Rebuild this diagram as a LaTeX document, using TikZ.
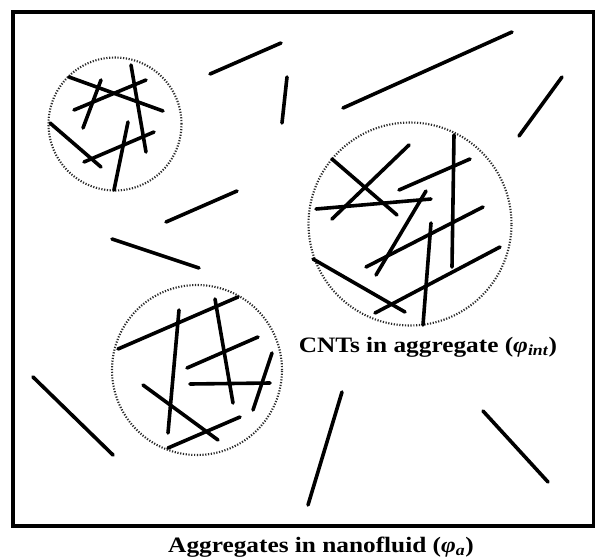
\documentclass[tikz,border=0pt]{standalone}
\usepackage{fontspec}
\setmainfont{Liberation Serif}
\newfontfamily\capfont[FakeStretch=1.15]{Liberation Serif}
\usepackage{tikz}
\usetikzlibrary{positioning}
\definecolor{dotgray}{HTML}{2A2A2A}

\tikzset{
  cnt/.style={line width=3.6pt, line cap=round},
  aggregate/.style={circle, draw=dotgray, line width=2.1pt, dash pattern=on 1.2pt off 1.6pt, inner sep=0pt},
  caption/.style={font=\capfont\fontsize{22}{26}\selectfont\bfseries, inner sep=0pt, anchor=base}
}

\begin{document}
\begin{tikzpicture}[x=1pt, y=-1pt]
  \useasboundingbox (0,0) rectangle (595,560);
  % frame of the nanofluid
  \draw[line width=3.8pt] (13,12) rectangle (594,526);

  % aggregates
  \node[aggregate, minimum size=133pt] (agg1) at (115,124) {};
  \node[aggregate, minimum size=203pt] (agg2) at (410,224) {};
  \node[aggregate, minimum size=170pt] (agg3) at (197,370) {};

  % CNTs inside aggregate 1
  \draw[cnt] (69,77) -- (163,111);
  \draw[cnt] (74,110) -- (146,80);
  \draw[cnt] (101,80) -- (83,128);
  \draw[cnt] (131,65) -- (146,152);
  \draw[cnt] (50,123) -- (101,167);
  \draw[cnt] (84,162) -- (154,132);
  \draw[cnt] (128,122) -- (114,190);

  % CNTs inside aggregate 2
  \draw[cnt] (332,159) -- (397,215);
  \draw[cnt] (332,219) -- (409,145);
  \draw[cnt] (316,209) -- (431,199);
  \draw[cnt] (399,190) -- (470,159);
  \draw[cnt] (454,135) -- (452,267);
  \draw[cnt] (426,191) -- (376,275);
  \draw[cnt] (366,267) -- (483,207);
  \draw[cnt] (431,223) -- (423,325);
  \draw[cnt] (313,259) -- (405,312);
  \draw[cnt] (375,313) -- (500,247);

  % CNTs inside aggregate 3
  \draw[cnt] (118,349) -- (238,297);
  \draw[cnt] (179,310) -- (168,433);
  \draw[cnt] (215,299) -- (233,403);
  \draw[cnt] (187,368) -- (258,337);
  \draw[cnt] (190,384) -- (270,383);
  \draw[cnt] (272,353) -- (253,410);
  \draw[cnt] (143,385) -- (218,440);
  \draw[cnt] (168,448) -- (240,417);

  % free CNTs in the fluid
  \draw[cnt] (210,74) -- (281,43);
  \draw[cnt] (287,77) -- (282,123);
  \draw[cnt] (166,222) -- (237,191);
  \draw[cnt] (112,239) -- (199,268);
  \draw[cnt] (343,108) -- (512,32);
  \draw[cnt] (519,136) -- (562,77);
  \draw[cnt] (33,377) -- (113,455);
  \draw[cnt] (342,392) -- (308,505);
  \draw[cnt] (483,411) -- (548,482);

  % labels
  \node[caption] (intlabel) at (428,352) {CNTs in aggregate (\textit{φ}\textsubscript{\textit{int}})};
  \node[caption] (alabel) at (321,552) {Aggregates in nanofluid (\textit{φ}\textsubscript{\textit{a}})};
\end{tikzpicture}
\end{document}
